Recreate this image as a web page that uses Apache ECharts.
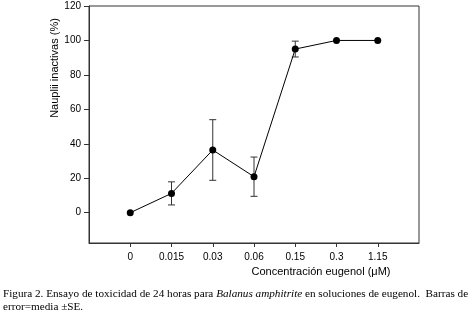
<!DOCTYPE html>
<html>
<head>
<meta charset="utf-8">
<script src="https://cdn.jsdelivr.net/npm/echarts@6/dist/echarts.min.js"></script>
<style>
html,body{margin:0;padding:0;background:#fff;}
#chart{width:469px;height:315px;}
</style>
</head>
<body>
<div id="chart"></div>
<script>
// datos
var concentraciones = ['0', '0.015', '0.03', '0.06', '0.15', '0.3', '1.15'];
var inactivas = [0, 11.2, 36.4, 20.9, 95, 100, 100];
var errorSE = [0, 6.7, 17.6, 11.4, 4.6, 0, 0];
var yTicks = [0, 20, 40, 60, 80, 100, 120];

var posiciones = concentraciones.map(function (c, i) { return i; });
var puntos = inactivas.map(function (v, i) { return [i, v]; });
var barras = [];
for (var i = 0; i < inactivas.length; i++) {
    if (errorSE[i] > 0) {
        barras.push([i, inactivas[i] - errorSE[i], inactivas[i] + errorSE[i]]);
    }
}

var chart = echarts.init(document.getElementById('chart'));
var option = {
    animation: false,
    grid: {
        left: 89, top: 6, right: 50, bottom: 72,
        show: true, borderColor: '#333', borderWidth: 1
    },
    xAxis: {
        type: 'value',
        min: -1,
        max: 7,
        splitLine: { show: false },
        axisLine: { onZero: false, lineStyle: { color: '#333', width: 1 } },
        axisTick: { show: true, length: 4, lineStyle: { color: '#333' }, customValues: posiciones },
        axisLabel: {
            customValues: posiciones,
            color: '#000',
            fontFamily: 'Liberation Sans, Arial',
            fontSize: 10,
            margin: 9,
            formatter: function (v) { return concentraciones[v]; }
        }
    },
    yAxis: {
        type: 'value',
        min: -17.6,
        max: 120,
        splitLine: { show: false },
        axisLine: { show: true, onZero: false, lineStyle: { color: '#333', width: 1 } },
        axisTick: { show: true, length: 5, lineStyle: { color: '#333' }, customValues: yTicks },
        axisLabel: {
            customValues: yTicks,
            color: '#000',
            fontFamily: 'Liberation Sans, Arial',
            fontSize: 10,
            margin: 8
        }
    },
    series: [
        {
            type: 'custom',
            data: barras,
            z: 1,
            renderItem: function (params, api) {
                var x = api.value(0);
                var lo = api.coord([x, api.value(1)]);
                var hi = api.coord([x, api.value(2)]);
                var w = 3.5;
                var st = { stroke: '#333', lineWidth: 1 };
                return {
                    type: 'group',
                    children: [
                        { type: 'line', shape: { x1: lo[0], y1: lo[1], x2: hi[0], y2: hi[1] }, style: st },
                        { type: 'line', shape: { x1: lo[0] - w, y1: lo[1], x2: lo[0] + w, y2: lo[1] }, style: st },
                        { type: 'line', shape: { x1: hi[0] - w, y1: hi[1], x2: hi[0] + w, y2: hi[1] }, style: st }
                    ]
                };
            }
        },
        {
            type: 'line',
            data: puntos,
            z: 2,
            symbol: 'circle',
            symbolSize: 7,
            lineStyle: { color: '#000', width: 1 },
            itemStyle: { color: '#000' }
        }
    ],
    graphic: [
        {
            type: 'text',
            x: 55, y: 68,
            rotation: Math.PI / 2,
            style: {
                text: 'Nauplii inactivas (%)',
                fontFamily: 'Liberation Sans, Arial',
                fontSize: 11,
                fill: '#000',
                align: 'center',
                verticalAlign: 'middle'
            }
        },
        {
            type: 'text',
            x: 321, y: 272,
            style: {
                text: 'Concentración eugenol (\u03bcM)',
                fontFamily: 'Liberation Sans, Arial',
                fontSize: 11,
                fill: '#000',
                align: 'center',
                verticalAlign: 'middle'
            }
        },
        {
            type: 'text',
            x: 3, y: 294,
            style: {
                text: 'Figura 2. Ensayo de toxicidad de 24 horas para {i|Balanus amphitrite} en soluciones de eugenol.  Barras de',
                fontFamily: 'Liberation Serif, Times New Roman',
                fontSize: 11.2,
                fill: '#000',
                verticalAlign: 'middle',
                rich: {
                    i: { fontStyle: 'italic', fontFamily: 'Liberation Serif, Times New Roman', fontSize: 11.2 }
                }
            }
        },
        {
            type: 'text',
            x: 3, y: 307,
            style: {
                text: 'error=media \u00b1SE.',
                fontFamily: 'Liberation Serif, Times New Roman',
                fontSize: 11.2,
                fill: '#000',
                verticalAlign: 'middle'
            }
        }
    ]
};
chart.setOption(option);
</script>
</body>
</html>
